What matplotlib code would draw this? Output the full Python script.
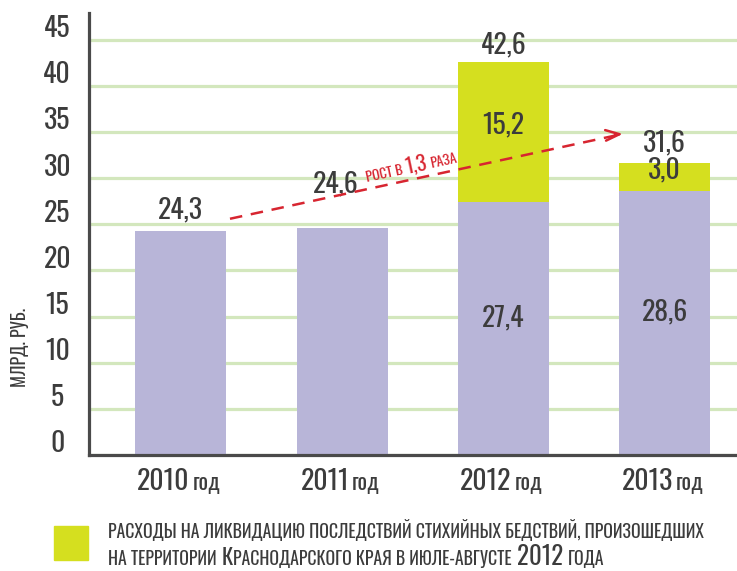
import numpy as np
import matplotlib
matplotlib.use("Agg")
import matplotlib.pyplot as plt
from matplotlib.transforms import IdentityTransform

plt.rcParams['font.family'] = ['Oswald', 'PT Sans Narrow', 'DejaVu Sans']
plt.rcParams['font.weight'] = 300

# dados -------------------------------------------------------------
anos = ["2010", "2011", "2012", "2013"]
base = [24.3, 24.6, 27.4, 28.6]          # roxo
extra = [0.0, 0.0, 15.2, 3.0]            # amarelo (desastres 2012)
total_rotulos = ["24,3", "24,6", "42,6", "31,6"]
base_rotulos = ["", "", "27,4", "28,6"]
extra_rotulos = ["", "", "15,2", "3,0"]
y_ticks = [0, 5, 10, 15, 20, 25, 30, 35, 40, 45]
# -------------------------------------------------------------------

roxo = "#b8b5d8"
amarelo = "#d5df1f"
verde_grade = "#d3e7bd"
cinza = "#3c3c3c"
vermelho = "#d72530"

W, H = 737, 571
fig = plt.figure(figsize=(W / 100, H / 100), dpi=100)
ax = fig.add_axes([89 / W, (H - 455) / H, (W - 89) / W, (455 - 13) / H])

x = np.arange(len(anos))
larg = 0.565
total = np.array(base) + np.array(extra)

ax.bar(x, base, width=larg, color=roxo, zorder=2)
ax.bar(x, extra, width=larg, bottom=base, color=amarelo, zorder=2)

ax.set_xlim(-0.569, 3.448)
ax.set_ylim(0, 47.9)

# grade e eixos
ax.set_yticks(y_ticks)
ax.set_yticklabels([])
ax.set_xticks([])
ax.tick_params(axis='y', length=0)
ax.yaxis.grid(True, color=verde_grade, linewidth=2.3)
ax.set_axisbelow(True)
for s in ["top", "right"]:
    ax.spines[s].set_visible(False)
ax.spines["left"].set_color("#4a4a4a")
ax.spines["bottom"].set_color("#4a4a4a")
ax.spines["left"].set_linewidth(2.3)
ax.spines["bottom"].set_linewidth(2.3)

# rotulos do eixo y (um pouco acima da linha da grade)
for v in y_ticks:
    ax.text(-0.049, v + 1.2, str(v), transform=ax.get_yaxis_transform(),
            ha='center', va='center', fontsize=20, color=cinza)

fig.text(20 / W, 1 - 347 / H, "МЛРД. РУБ.", rotation=90, ha='center', va='center',
         fontsize=13, color=cinza)

# valores -----------------------------------------------------------
desloc_total = [21, 44, 17, 20]
desloc_x = [0, -6, 0, 0]
for i in range(len(anos)):
    ax.annotate(total_rotulos[i], (x[i], total[i]),
                xytext=(desloc_x[i] * 0.72, desloc_total[i] * 0.72),
                textcoords='offset points', ha='center', va='center', fontsize=20, color=cinza)
    if base_rotulos[i]:
        ax.annotate(base_rotulos[i], (x[i], base[i] / 2), xytext=(0, 8),
                    textcoords='offset points', ha='center', va='center', fontsize=20, color=cinza)
    if extra_rotulos[i]:
        ax.annotate(extra_rotulos[i], (x[i], base[i] + extra[i] / 2), xytext=(0, 5),
                    textcoords='offset points', ha='center', va='center', fontsize=20, color=cinza)

# seta de crescimento -----------------------------------------------
seta_ini = (x[0] + 0.305, 25.6)
seta_fim = (2.741, 34.8)
ax.plot([seta_ini[0], seta_fim[0]], [seta_ini[1], seta_fim[1]], color=vermelho,
        linewidth=1.8, dashes=(5, 3.5), zorder=3)
ax.annotate("", xy=seta_fim, xytext=(seta_fim[0] - 0.05, seta_fim[1] - 0.075),
            arrowprops=dict(arrowstyle='->,head_length=1.0,head_width=0.38', color=vermelho,
                            lw=1.8, shrinkA=0, shrinkB=0), zorder=3)

# texto com tamanhos misturados -------------------------------------
renderer = fig.canvas.get_renderer()


def texto_misto(px, py, partes, cor, rot=0.0, centro=False):
    # px, py em pixels da imagem (origem no topo)
    objs = []
    pos = []
    atual = 0.0
    for s, tam, gap in partes:
        t = fig.text(0, 0, s, fontsize=tam, color=cor, ha='left', va='baseline',
                     transform=IdentityTransform())
        atual += gap
        pos.append(atual)
        atual += t.get_window_extent(renderer).width
        objs.append(t)
    a = np.radians(rot)
    x0 = px - (atual / 2 if centro else 0)
    y0 = H - py
    for t, p in zip(objs, pos):
        t.set_position((x0 + p * np.cos(a), y0 + p * np.sin(a)))
        t.set_rotation(rot)
        t.set_rotation_mode('anchor')


# rotulos do eixo x
for i, ano in enumerate(anos):
    cx = ax.transData.transform((x[i], 0))[0]
    texto_misto(cx - 2, 490, [(ano, 20, 0), ("год", 16, 3)], cinza, centro=True)

texto_misto(367, 182, [("РОСТ В", 10, 0), ("1,3", 15, 3), ("РАЗА", 10, 3)], vermelho, rot=12.1)

# legenda
fig.add_artist(plt.Rectangle((54 / W, (H - 560) / H), 34 / W, 34 / H,
                             transform=fig.transFigure, color=amarelo))
texto_misto(108, 538, [("РАСХОДЫ НА ЛИКВИДАЦИЮ ПОСЛЕДСТВИЙ СТИХИЙНЫХ БЕДСТВИЙ, ПРОИЗОШЕДШИХ", 12.8, 0)], cinza)
texto_misto(108, 565, [("НА ТЕРРИТОРИИ", 12.8, 0), ("К", 16, 5), ("РАСНОДАРСКОГО КРАЯ В ИЮЛЕ-АВГУСТЕ", 12.8, 0),
                       ("2012", 18, 5), ("ГОДА", 12.8, 5)], cinza)

fig.savefig("out.png", dpi=100)
